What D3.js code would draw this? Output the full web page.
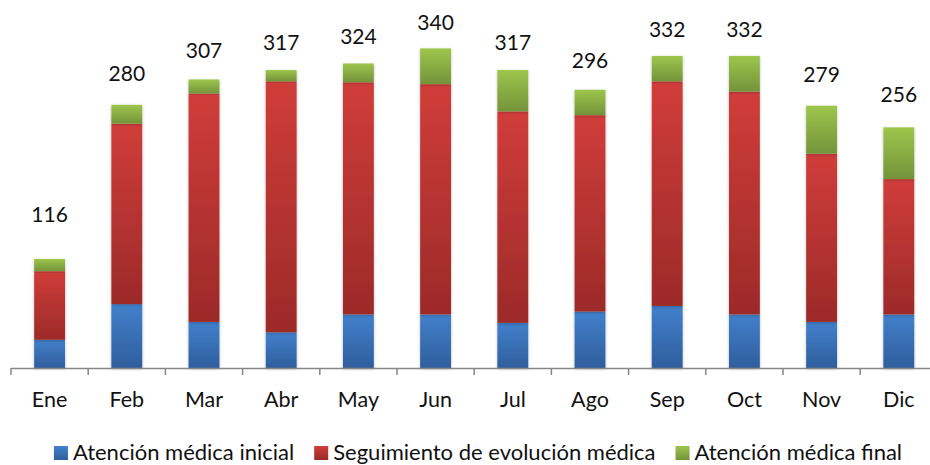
<!DOCTYPE html>
<html>
<head>
<meta charset="utf-8">
<script src="https://cdn.jsdelivr.net/npm/d3@7"></script>
<style>
  body { margin: 0; background: #fff; }
  svg { display: block; font-family: Lato, "Liberation Sans", sans-serif; }
</style>
</head>
<body>
<svg id="chart"></svg>
<script>
// data
var meses = ["Ene", "Feb", "Mar", "Abr", "May", "Jun", "Jul", "Ago", "Sep", "Oct", "Nov", "Dic"];
var inicial = [30, 68, 49, 38, 57, 57, 48, 60, 66, 57, 49, 57];
var seguimiento = [73, 192, 243, 267, 247, 245, 225, 209, 239, 237, 179, 144];
var final = [13, 20, 15, 12, 20, 38, 44, 27, 27, 38, 51, 55];
var totales = [116, 280, 307, 317, 324, 340, 317, 296, 332, 332, 279, 256];
var series = ["Atención médica inicial", "Seguimiento de evolución médica", "Atención médica final"];

var width = 930, height = 465;
var svg = d3.select("#chart").attr("width", width).attr("height", height);

// kleuren (boven licht, onder donker)
var colors = [
  { top: "#4280cc", bottom: "#2f5e9c" },
  { top: "#d03d3a", bottom: "#9c2a28" },
  { top: "#9dc64c", bottom: "#74933a" }
];

var defs = svg.append("defs");
colors.forEach(function(c, i) {
  var g = defs.append("linearGradient")
    .attr("id", "grad" + i)
    .attr("x1", 0).attr("y1", 0).attr("x2", 0).attr("y2", 1);
  g.append("stop").attr("offset", "0%").attr("stop-color", c.top);
  g.append("stop").attr("offset", "100%").attr("stop-color", c.bottom);
});

var shadow = defs.append("filter").attr("id", "shadow")
  .attr("x", "-30%").attr("y", "-10%").attr("width", "160%").attr("height", "120%");
shadow.append("feDropShadow")
  .attr("dx", 0).attr("dy", 1).attr("stdDeviation", 1.5)
  .attr("flood-color", "#000").attr("flood-opacity", 0.25);

var rows = meses.map(function(m, i) {
  return { mes: m, a: inicial[i], b: seguimiento[i], c: final[i], total: totales[i] };
});

var x = d3.scaleBand()
  .domain(meses)
  .range([11, 11 + 12 * 77.2])
  .paddingInner(0.6)
  .paddingOuter(0.3);

var y = d3.scaleLinear().domain([0, 350]).range([368, 39]);
// labels staan op een eigen (secundaire) schaal
var labelY = d3.scaleLinear().domain([0, 350]).range([321, 21.4]);

var stack = d3.stack().keys(["a", "b", "c"]);
var stacked = stack(rows);

var layer = svg.selectAll(".layer")
  .data(stacked)
  .enter()
  .append("g")
  .attr("class", "layer")
  .attr("fill", function(d, i) { return "url(#grad" + i + ")"; });

layer.selectAll("rect")
  .data(function(d) { return d; })
  .enter()
  .append("rect")
  .attr("x", function(d) { return x(d.data.mes); })
  .attr("y", function(d) { return y(d[1]); })
  .attr("width", x.bandwidth())
  .attr("height", function(d) { return y(d[0]) - y(d[1]); })
  .attr("filter", "url(#shadow)");

// x-as
var axis = svg.append("g");
var r = x.range();
axis.append("line")
  .attr("x1", r[0]).attr("x2", r[1])
  .attr("y1", y(0) + 0.5).attr("y2", y(0) + 0.5)
  .attr("stroke", "#868686").attr("stroke-width", 1.5);

axis.selectAll(".tick")
  .data(d3.range(meses.length + 1))
  .enter()
  .append("line")
  .attr("x1", function(i) { return r[0] + i * x.step(); })
  .attr("x2", function(i) { return r[0] + i * x.step(); })
  .attr("y1", y(0))
  .attr("y2", y(0) + 7)
  .attr("stroke", "#868686").attr("stroke-width", 1.5);

axis.selectAll(".mes")
  .data(meses)
  .enter()
  .append("text")
  .attr("x", function(d) { return x(d) + x.bandwidth() / 2; })
  .attr("y", y(0) + 39)
  .attr("text-anchor", "middle")
  .attr("font-size", "21.5px")
  .attr("fill", "#111")
  .text(function(d) { return d; });

// totalen boven de staven
svg.selectAll(".total")
  .data(rows)
  .enter()
  .append("text")
  .attr("x", function(d) { return x(d.mes) + x.bandwidth() / 2; })
  .attr("y", function(d) { return labelY(d.total); })
  .attr("text-anchor", "middle")
  .attr("font-size", "21px")
  .attr("fill", "#111")
  .text(function(d) { return d.total; });

// legenda
var legend = svg.append("g");
var items = legend.selectAll(".item")
  .data(series)
  .enter()
  .append("g");

items.append("rect")
  .attr("width", 14).attr("height", 14)
  .attr("y", -14)
  .attr("fill", function(d, i) { return "url(#grad" + i + ")"; });

items.append("text")
  .attr("x", 19)
  .attr("font-size", "22px")
  .attr("fill", "#111")
  .text(function(d) { return d; });

var offset = 0;
var widths = [];
items.each(function() {
  var w = this.getBBox().width;
  widths.push(w);
});
var gap = 20;
var total = d3.sum(widths) + gap * (widths.length - 1);
var start = 478 - total / 2;
items.attr("transform", function(d, i) {
  var tx = start + offset;
  offset += widths[i] + gap;
  return "translate(" + tx + ",460)";
});
</script>
</body>
</html>
